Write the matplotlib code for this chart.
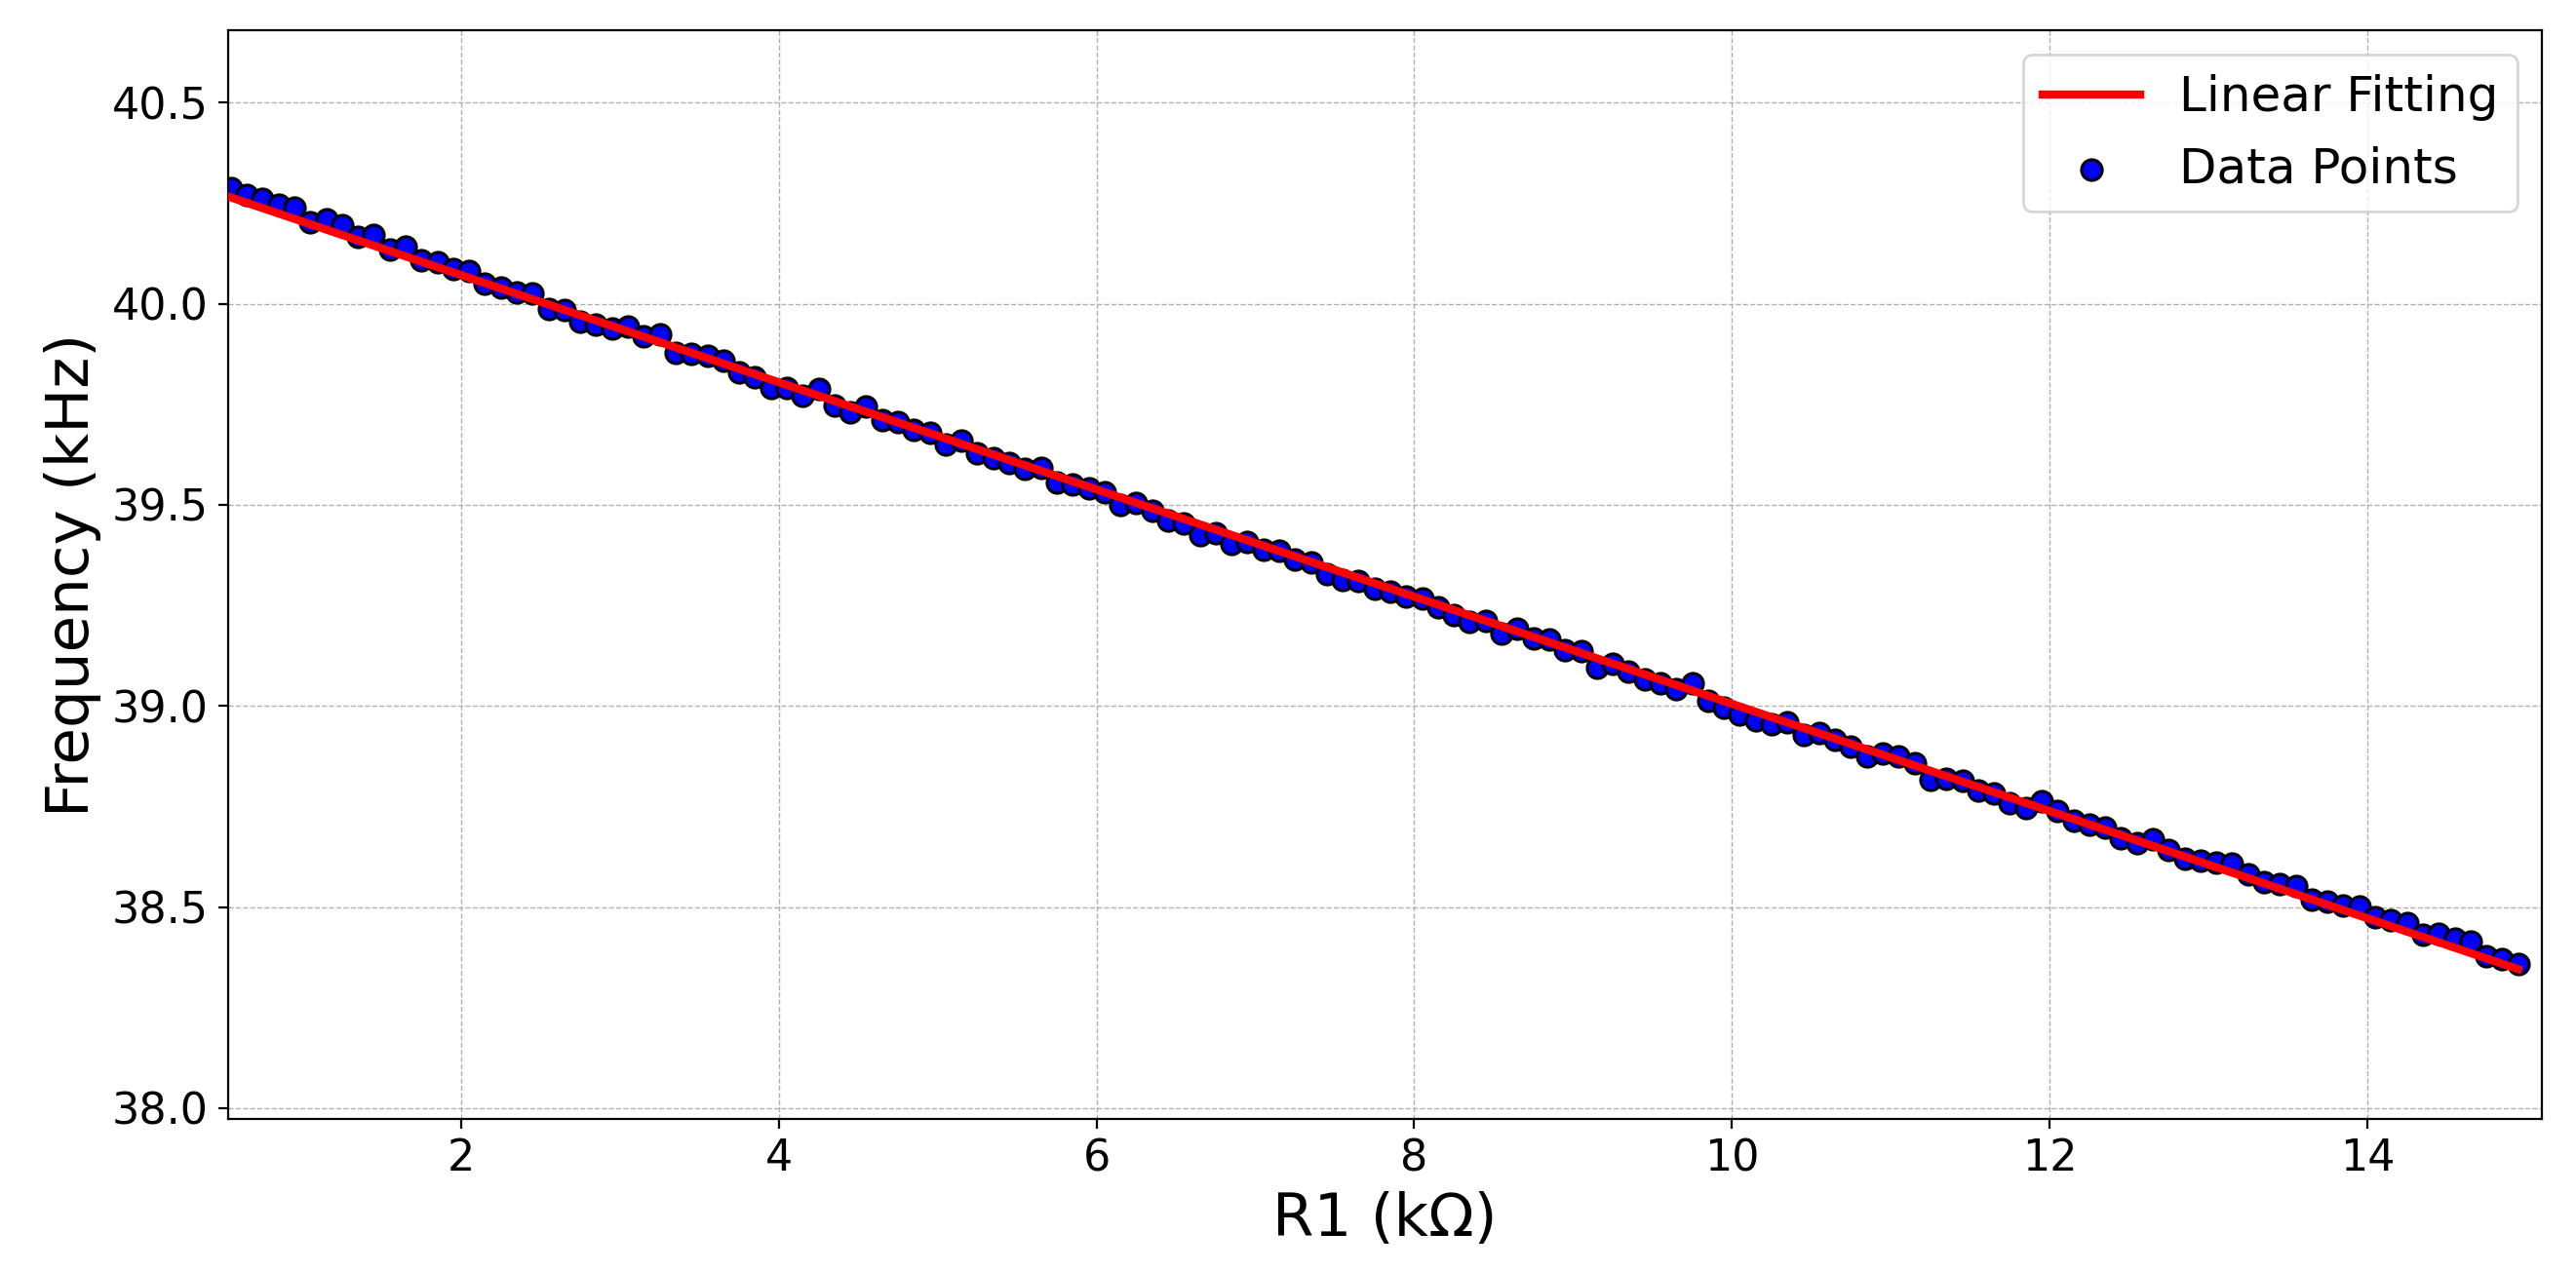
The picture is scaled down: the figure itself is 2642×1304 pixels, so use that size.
import numpy as np
import matplotlib.pyplot as plt

# R1 in kOhm, frequency in kHz
r1 = [
    0.55, 0.65, 0.75, 0.85, 0.95, 1.05, 1.15, 1.25, 1.35, 1.45,
    1.55, 1.65, 1.75, 1.85, 1.95, 2.05, 2.15, 2.25, 2.35, 2.45,
    2.55, 2.65, 2.75, 2.85, 2.95, 3.05, 3.15, 3.25, 3.35, 3.45,
    3.55, 3.65, 3.75, 3.85, 3.95, 4.05, 4.15, 4.25, 4.35, 4.45,
    4.55, 4.65, 4.75, 4.85, 4.95, 5.05, 5.15, 5.25, 5.35, 5.45,
    5.55, 5.65, 5.75, 5.85, 5.95, 6.05, 6.15, 6.25, 6.35, 6.45,
    6.55, 6.65, 6.75, 6.85, 6.95, 7.05, 7.15, 7.25, 7.35, 7.45,
    7.55, 7.65, 7.75, 7.85, 7.95, 8.05, 8.15, 8.25, 8.35, 8.45,
    8.55, 8.65, 8.75, 8.85, 8.95, 9.05, 9.15, 9.25, 9.35, 9.45,
    9.55, 9.65, 9.75, 9.85, 9.95, 10.05, 10.15, 10.25, 10.35, 10.45,
    10.55, 10.65, 10.75, 10.85, 10.95, 11.05, 11.15, 11.25, 11.35, 11.45,
    11.55, 11.65, 11.75, 11.85, 11.95, 12.05, 12.15, 12.25, 12.35, 12.45,
    12.55, 12.65, 12.75, 12.85, 12.95, 13.05, 13.15, 13.25, 13.35, 13.45,
    13.55, 13.65, 13.75, 13.85, 13.95, 14.05, 14.15, 14.25, 14.35, 14.45,
    14.55, 14.65, 14.75, 14.85, 14.95,
]

freq = [
    40.287, 40.271, 40.260, 40.247, 40.239, 40.202, 40.209, 40.196, 40.166, 40.170,
    40.136, 40.142, 40.109, 40.103, 40.086, 40.081, 40.049, 40.040, 40.028, 40.026,
    39.988, 39.984, 39.955, 39.947, 39.939, 39.943, 39.919, 39.923, 39.879, 39.875,
    39.870, 39.858, 39.830, 39.818, 39.791, 39.791, 39.772, 39.788, 39.748, 39.729,
    39.745, 39.710, 39.707, 39.686, 39.678, 39.650, 39.659, 39.629, 39.616, 39.605,
    39.589, 39.591, 39.555, 39.551, 39.540, 39.531, 39.500, 39.505, 39.486, 39.460,
    39.454, 39.425, 39.430, 39.403, 39.408, 39.389, 39.387, 39.365, 39.357, 39.327,
    39.314, 39.312, 39.292, 39.284, 39.272, 39.268, 39.246, 39.227, 39.209, 39.211,
    39.179, 39.193, 39.167, 39.165, 39.138, 39.136, 39.094, 39.106, 39.086, 39.067,
    39.057, 39.041, 39.057, 39.013, 38.995, 38.980, 38.964, 38.955, 38.960, 38.928,
    38.932, 38.916, 38.900, 38.875, 38.883, 38.874, 38.858, 38.817, 38.818, 38.815,
    38.790, 38.782, 38.758, 38.747, 38.762, 38.739, 38.715, 38.705, 38.697, 38.672,
    38.660, 38.669, 38.642, 38.620, 38.616, 38.610, 38.607, 38.582, 38.561, 38.558,
    38.553, 38.518, 38.513, 38.503, 38.502, 38.475, 38.467, 38.461, 38.432, 38.434,
    38.421, 38.413, 38.378, 38.370, 38.359,
]

r1 = np.array(r1)
freq = np.array(freq)

# linear fit
slope, intercept = np.polyfit(r1, freq, 1)
fit = slope * r1 + intercept

fig, ax = plt.subplots(figsize=(13.21, 6.52), dpi=200)
fig.subplots_adjust(left=0.0884, right=0.9868, top=0.9762, bottom=0.1196)

line, = ax.plot(r1, fit, color="red", linewidth=3, label="Linear Fitting", zorder=3)
pts = ax.scatter(r1, freq, s=58, color="blue", edgecolors="black", linewidths=1.1,
                 label="Data Points", zorder=2)

ax.set_xlim(0.53, 15.1)
ax.set_ylim(37.973, 40.68)
ax.set_xticks([2, 4, 6, 8, 10, 12, 14])
ax.set_yticks([38.0, 38.5, 39.0, 39.5, 40.0, 40.5])

ax.set_xlabel("R1 (k\u03a9)", fontsize=22)
ax.set_ylabel("Frequency (kHz)", fontsize=22)
ax.tick_params(labelsize=16)
ax.grid(True, linestyle="--", linewidth=0.5, color="#b0b0b0")
ax.set_axisbelow(True)

ax.legend(handles=[line, pts], loc="upper right", fontsize=18)

fig.savefig("out.png")
